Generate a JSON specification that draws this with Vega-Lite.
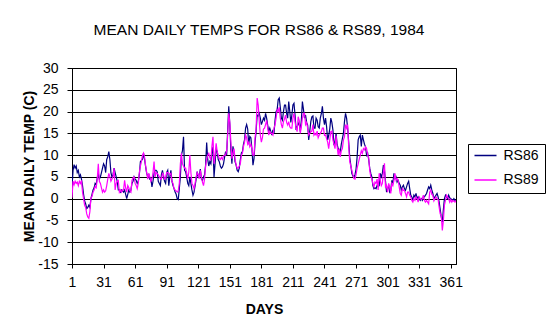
{
"$schema": "https://vega.github.io/schema/vega-lite/v6.json",
"width": 384, "height": 196,
"autosize": {"type": "none"},
"padding": {"left": 72, "top": 68, "right": 94, "bottom": 72},
"background": "white",
"title": {"text": "MEAN DAILY TEMPS FOR RS86 & RS89, 1984", "font": "Liberation Sans", "fontSize": 15.5, "fontWeight": "normal", "color": "black", "anchor": "middle", "offset": 23, "dx": -5},
"data": {"values": [
{"day":1,"RS86":2.5,"RS89":0.2},{"day":2,"RS86":6.5,"RS89":4.0},{"day":3,"RS86":7.8,"RS89":3.2},{"day":4,"RS86":7.0,"RS89":4.0},{"day":5,"RS86":7.5,"RS89":3.5},{"day":6,"RS86":6.0,"RS89":3.8},{"day":7,"RS86":6.5,"RS89":3.0},{"day":8,"RS86":5.0,"RS89":4.0},{"day":9,"RS86":5.5,"RS89":3.5},{"day":10,"RS86":4.5,"RS89":4.2},
{"day":11,"RS86":3.0,"RS89":1.5},{"day":12,"RS86":1.0,"RS89":0.0},{"day":13,"RS86":-0.5,"RS89":-1.5},{"day":14,"RS86":-1.2,"RS89":-2.0},{"day":15,"RS86":-2.3,"RS89":-3.5},{"day":16,"RS86":-2.0,"RS89":-4.2},{"day":17,"RS86":-1.5,"RS89":-4.5},{"day":18,"RS86":-2.0,"RS89":-3.0},{"day":19,"RS86":0.0,"RS89":0.2},{"day":20,"RS86":1.0,"RS89":0.5},
{"day":21,"RS86":2.0,"RS89":1.5},{"day":22,"RS86":2.5,"RS89":2.0},{"day":23,"RS86":3.5,"RS89":2.8},{"day":24,"RS86":3.2,"RS89":2.5},{"day":25,"RS86":4.8,"RS89":4.5},{"day":26,"RS86":5.8,"RS89":8.0},{"day":27,"RS86":4.5,"RS89":4.0},{"day":28,"RS86":5.0,"RS89":3.5},{"day":29,"RS86":6.0,"RS89":2.5},{"day":30,"RS86":7.0,"RS89":1.5},
{"day":31,"RS86":8.0,"RS89":2.0},{"day":32,"RS86":7.5,"RS89":1.5},{"day":33,"RS86":6.0,"RS89":1.8},{"day":34,"RS86":9.0,"RS89":3.0},{"day":35,"RS86":9.6,"RS89":4.5},{"day":36,"RS86":10.8,"RS89":5.8},{"day":37,"RS86":9.0,"RS89":5.0},{"day":38,"RS86":6.0,"RS89":4.0},{"day":39,"RS86":5.0,"RS89":4.5},{"day":40,"RS86":5.5,"RS89":5.0},
{"day":41,"RS86":7.0,"RS89":7.0},{"day":42,"RS86":6.0,"RS89":2.0},{"day":43,"RS86":5.0,"RS89":3.5},{"day":44,"RS86":4.0,"RS89":4.0},{"day":45,"RS86":2.0,"RS89":4.2},{"day":46,"RS86":2.0,"RS89":1.5},{"day":47,"RS86":1.5,"RS89":2.0},{"day":48,"RS86":2.0,"RS89":1.5},{"day":49,"RS86":1.8,"RS89":2.0},{"day":50,"RS86":1.5,"RS89":2.0},
{"day":51,"RS86":2.0,"RS89":4.2},{"day":52,"RS86":1.0,"RS89":2.5},{"day":53,"RS86":0.0,"RS89":1.5},{"day":54,"RS86":1.0,"RS89":3.0},{"day":55,"RS86":2.0,"RS89":2.5},{"day":56,"RS86":1.5,"RS89":1.8},{"day":57,"RS86":2.0,"RS89":1.5},{"day":58,"RS86":3.5,"RS89":4.2},{"day":59,"RS86":4.0,"RS89":4.8},{"day":60,"RS86":5.0,"RS89":5.0},
{"day":61,"RS86":4.5,"RS89":3.5},{"day":62,"RS86":4.2,"RS89":3.0},{"day":63,"RS86":3.5,"RS89":2.3},{"day":64,"RS86":4.0,"RS89":3.5},{"day":65,"RS86":5.5,"RS89":6.0},{"day":66,"RS86":8.5,"RS89":7.5},{"day":67,"RS86":8.8,"RS89":8.5},{"day":68,"RS86":9.0,"RS89":10.0},{"day":69,"RS86":10.4,"RS89":10.5},{"day":70,"RS86":9.0,"RS89":9.5},
{"day":71,"RS86":7.3,"RS89":7.5},{"day":72,"RS86":5.8,"RS89":6.0},{"day":73,"RS86":5.0,"RS89":4.5},{"day":74,"RS86":5.5,"RS89":5.8},{"day":75,"RS86":4.5,"RS89":5.0},{"day":76,"RS86":4.6,"RS89":4.0},{"day":77,"RS86":2.7,"RS89":4.5},{"day":78,"RS86":4.0,"RS89":6.0},{"day":79,"RS86":5.8,"RS89":8.5},{"day":80,"RS86":6.5,"RS89":5.0},
{"day":81,"RS86":6.5,"RS89":6.0},{"day":82,"RS86":6.2,"RS89":5.8},{"day":83,"RS86":4.0,"RS89":5.5},{"day":84,"RS86":3.5,"RS89":5.0},{"day":85,"RS86":3.0,"RS89":4.6},{"day":86,"RS86":5.5,"RS89":4.5},{"day":87,"RS86":6.5,"RS89":5.8},{"day":88,"RS86":5.0,"RS89":5.5},{"day":89,"RS86":4.0,"RS89":4.5},{"day":90,"RS86":3.5,"RS89":4.6},
{"day":91,"RS86":6.0,"RS89":6.0},{"day":92,"RS86":6.5,"RS89":6.0},{"day":93,"RS86":3.0,"RS89":5.8},{"day":94,"RS86":5.0,"RS89":5.5},{"day":95,"RS86":6.5,"RS89":5.8},{"day":96,"RS86":4.0,"RS89":4.0},{"day":97,"RS86":3.0,"RS89":3.5},{"day":98,"RS86":2.3,"RS89":2.3},{"day":99,"RS86":1.5,"RS89":2.0},{"day":100,"RS86":1.0,"RS89":1.8},
{"day":101,"RS86":0.0,"RS89":1.5},{"day":102,"RS86":-0.2,"RS89":1.8},{"day":103,"RS86":2.3,"RS89":3.5},{"day":104,"RS86":5.0,"RS89":8.0},{"day":105,"RS86":10.0,"RS89":10.4},{"day":106,"RS86":11.0,"RS89":8.0},{"day":107,"RS86":14.2,"RS89":7.5},{"day":108,"RS86":6.5,"RS89":7.0},{"day":109,"RS86":6.2,"RS89":7.0},{"day":110,"RS86":5.0,"RS89":6.0},
{"day":111,"RS86":3.5,"RS89":4.5},{"day":112,"RS86":3.0,"RS89":6.0},{"day":113,"RS86":5.0,"RS89":10.0},{"day":114,"RS86":3.5,"RS89":6.0},{"day":115,"RS86":2.0,"RS89":3.5},{"day":116,"RS86":0.8,"RS89":3.0},{"day":117,"RS86":1.5,"RS89":2.3},{"day":118,"RS86":3.0,"RS89":3.5},{"day":119,"RS86":4.5,"RS89":5.0},{"day":120,"RS86":6.2,"RS89":6.0},
{"day":121,"RS86":5.0,"RS89":5.5},{"day":122,"RS86":5.5,"RS89":4.6},{"day":123,"RS86":6.8,"RS89":6.5},{"day":124,"RS86":4.5,"RS89":5.0},{"day":125,"RS86":4.2,"RS89":3.8},{"day":126,"RS86":5.0,"RS89":3.0},{"day":127,"RS86":5.5,"RS89":4.5},{"day":128,"RS86":7.7,"RS89":7.5},{"day":129,"RS86":12.9,"RS89":9.0},{"day":130,"RS86":9.0,"RS89":10.0},
{"day":131,"RS86":7.5,"RS89":10.4},{"day":132,"RS86":8.5,"RS89":9.5},{"day":133,"RS86":8.0,"RS89":8.8},{"day":134,"RS86":10.5,"RS89":12.0},{"day":135,"RS86":11.9,"RS89":14.2},{"day":136,"RS86":5.0,"RS89":8.0},{"day":137,"RS86":8.0,"RS89":10.0},{"day":138,"RS86":11.5,"RS89":12.7},{"day":139,"RS86":10.8,"RS89":10.8},{"day":140,"RS86":9.0,"RS89":10.0},
{"day":141,"RS86":8.5,"RS89":9.2},{"day":142,"RS86":7.5,"RS89":9.0},{"day":143,"RS86":7.0,"RS89":9.5},{"day":144,"RS86":7.3,"RS89":9.0},{"day":145,"RS86":8.0,"RS89":9.8},{"day":146,"RS86":9.5,"RS89":10.0},{"day":147,"RS86":10.8,"RS89":10.0},{"day":148,"RS86":10.0,"RS89":11.0},{"day":149,"RS86":15.8,"RS89":14.6},{"day":150,"RS86":21.2,"RS89":19.6},
{"day":151,"RS86":17.0,"RS89":17.5},{"day":152,"RS86":11.2,"RS89":13.0},{"day":153,"RS86":8.0,"RS89":9.2},{"day":154,"RS86":12.0,"RS89":10.5},{"day":155,"RS86":10.5,"RS89":11.5},{"day":156,"RS86":8.5,"RS89":9.0},{"day":157,"RS86":7.7,"RS89":7.8},{"day":158,"RS86":6.5,"RS89":7.0},{"day":159,"RS86":6.2,"RS89":7.0},{"day":160,"RS86":7.0,"RS89":7.5},
{"day":161,"RS86":9.0,"RS89":8.0},{"day":162,"RS86":10.5,"RS89":10.0},{"day":163,"RS86":10.8,"RS89":10.4},{"day":164,"RS86":12.5,"RS89":12.0},{"day":165,"RS86":13.5,"RS89":13.0},{"day":166,"RS86":16.2,"RS89":14.6},{"day":167,"RS86":17.0,"RS89":14.0},{"day":168,"RS86":16.0,"RS89":12.5},{"day":169,"RS86":12.5,"RS89":13.0},{"day":170,"RS86":14.3,"RS89":11.9},
{"day":171,"RS86":14.0,"RS89":12.5},{"day":172,"RS86":11.5,"RS89":11.5},{"day":173,"RS86":7.7,"RS89":10.0},{"day":174,"RS86":9.2,"RS89":10.0},{"day":175,"RS86":13.0,"RS89":14.0},{"day":176,"RS86":15.5,"RS89":16.0},{"day":177,"RS86":19.2,"RS89":23.1},{"day":178,"RS86":19.0,"RS89":21.5},{"day":179,"RS86":19.6,"RS89":17.7},{"day":180,"RS86":18.5,"RS89":14.6},
{"day":181,"RS86":17.0,"RS89":13.0},{"day":182,"RS86":17.7,"RS89":14.0},{"day":183,"RS86":18.5,"RS89":16.0},{"day":184,"RS86":18.0,"RS89":16.2},{"day":185,"RS86":19.6,"RS89":17.0},{"day":186,"RS86":18.5,"RS89":18.0},{"day":187,"RS86":16.9,"RS89":16.2},{"day":188,"RS86":15.4,"RS89":14.6},{"day":189,"RS86":16.2,"RS89":15.5},{"day":190,"RS86":15.4,"RS89":15.0},
{"day":191,"RS86":14.6,"RS89":15.0},{"day":192,"RS86":15.8,"RS89":14.6},{"day":193,"RS86":15.0,"RS89":16.2},{"day":194,"RS86":18.0,"RS89":17.0},{"day":195,"RS86":20.0,"RS89":18.5},{"day":196,"RS86":20.4,"RS89":20.4},{"day":197,"RS86":22.7,"RS89":20.0},{"day":198,"RS86":23.1,"RS89":21.0},{"day":199,"RS86":21.0,"RS89":18.5},{"day":200,"RS86":18.5,"RS89":17.0},
{"day":201,"RS86":18.0,"RS89":16.2},{"day":202,"RS86":20.0,"RS89":17.7},{"day":203,"RS86":21.5,"RS89":18.3},{"day":204,"RS86":21.5,"RS89":19.2},{"day":205,"RS86":19.6,"RS89":17.5},{"day":206,"RS86":18.5,"RS89":16.9},{"day":207,"RS86":22.3,"RS89":17.7},{"day":208,"RS86":20.0,"RS89":16.5},{"day":209,"RS86":17.5,"RS89":16.2},{"day":210,"RS86":19.2,"RS89":16.2},
{"day":211,"RS86":21.5,"RS89":18.5},{"day":212,"RS86":21.9,"RS89":19.6},{"day":213,"RS86":19.2,"RS89":17.7},{"day":214,"RS86":15.8,"RS89":16.2},{"day":215,"RS86":16.5,"RS89":15.4},{"day":216,"RS86":17.0,"RS89":18.8},{"day":217,"RS86":17.7,"RS89":18.0},{"day":218,"RS86":15.4,"RS89":15.0},{"day":219,"RS86":18.0,"RS89":16.5},{"day":220,"RS86":22.3,"RS89":18.5},
{"day":221,"RS86":20.5,"RS89":19.6},{"day":222,"RS86":18.5,"RS89":19.6},{"day":223,"RS86":19.2,"RS89":17.0},{"day":224,"RS86":17.5,"RS89":17.5},{"day":225,"RS86":16.9,"RS89":16.2},{"day":226,"RS86":13.5,"RS89":14.6},{"day":227,"RS86":15.5,"RS89":15.0},{"day":228,"RS86":17.7,"RS89":15.4},{"day":229,"RS86":18.8,"RS89":15.5},{"day":230,"RS86":19.0,"RS89":17.0},
{"day":231,"RS86":16.2,"RS89":14.6},{"day":232,"RS86":16.2,"RS89":15.0},{"day":233,"RS86":18.5,"RS89":14.6},{"day":234,"RS86":18.0,"RS89":15.5},{"day":235,"RS86":16.5,"RS89":14.0},{"day":236,"RS86":16.2,"RS89":14.6},{"day":237,"RS86":18.5,"RS89":15.0},{"day":238,"RS86":19.5,"RS89":15.4},{"day":239,"RS86":21.2,"RS89":16.2},{"day":240,"RS86":18.5,"RS89":16.2},
{"day":241,"RS86":17.0,"RS89":14.5},{"day":242,"RS86":18.5,"RS89":14.6},{"day":243,"RS86":16.5,"RS89":13.8},{"day":244,"RS86":13.5,"RS89":13.0},{"day":245,"RS86":14.5,"RS89":11.5},{"day":246,"RS86":16.0,"RS89":13.5},{"day":247,"RS86":18.5,"RS89":15.4},{"day":248,"RS86":17.5,"RS89":15.5},{"day":249,"RS86":15.8,"RS89":13.5},{"day":250,"RS86":12.3,"RS89":12.5},
{"day":251,"RS86":13.0,"RS89":11.5},{"day":252,"RS86":15.0,"RS89":14.5},{"day":253,"RS86":12.5,"RS89":12.0},{"day":254,"RS86":11.5,"RS89":10.0},{"day":255,"RS86":11.2,"RS89":11.5},{"day":256,"RS86":10.8,"RS89":9.6},{"day":257,"RS86":12.5,"RS89":11.0},{"day":258,"RS86":13.8,"RS89":11.5},{"day":259,"RS86":15.0,"RS89":13.5},{"day":260,"RS86":17.7,"RS89":14.2},
{"day":261,"RS86":19.6,"RS89":17.0},{"day":262,"RS86":18.5,"RS89":16.2},{"day":263,"RS86":16.2,"RS89":17.0},{"day":264,"RS86":13.0,"RS89":12.0},{"day":265,"RS86":9.5,"RS89":8.5},{"day":266,"RS86":7.7,"RS89":7.5},{"day":267,"RS86":5.8,"RS89":6.5},{"day":268,"RS86":5.2,"RS89":5.5},{"day":269,"RS86":5.0,"RS89":4.6},{"day":270,"RS86":5.5,"RS89":4.5},
{"day":271,"RS86":6.8,"RS89":5.5},{"day":272,"RS86":9.5,"RS89":7.0},{"day":273,"RS86":13.5,"RS89":8.0},{"day":274,"RS86":14.2,"RS89":9.0},{"day":275,"RS86":14.6,"RS89":10.0},{"day":276,"RS86":12.0,"RS89":11.0},{"day":277,"RS86":14.6,"RS89":10.4},{"day":278,"RS86":13.5,"RS89":11.5},{"day":279,"RS86":12.5,"RS89":11.2},{"day":280,"RS86":11.9,"RS89":11.9},
{"day":281,"RS86":10.0,"RS89":11.5},{"day":282,"RS86":10.5,"RS89":10.0},{"day":283,"RS86":9.0,"RS89":9.5},{"day":284,"RS86":7.0,"RS89":6.5},{"day":285,"RS86":5.8,"RS89":5.0},{"day":286,"RS86":5.0,"RS89":4.6},{"day":287,"RS86":3.0,"RS89":3.5},{"day":288,"RS86":2.3,"RS89":2.7},{"day":289,"RS86":2.5,"RS89":3.8},{"day":290,"RS86":2.3,"RS89":3.5},
{"day":291,"RS86":3.0,"RS89":4.5},{"day":292,"RS86":2.8,"RS89":2.0},{"day":293,"RS86":3.0,"RS89":5.8},{"day":294,"RS86":5.8,"RS89":4.2},{"day":295,"RS86":5.0,"RS89":3.0},{"day":296,"RS86":5.8,"RS89":3.5},{"day":297,"RS86":7.7,"RS89":6.0},{"day":298,"RS86":6.5,"RS89":8.1},{"day":299,"RS86":4.0,"RS89":2.5},{"day":300,"RS86":1.5,"RS89":3.0},
{"day":301,"RS86":2.3,"RS89":1.5},{"day":302,"RS86":3.0,"RS89":3.5},{"day":303,"RS86":1.5,"RS89":2.7},{"day":304,"RS86":1.9,"RS89":1.2},{"day":305,"RS86":4.2,"RS89":3.5},{"day":306,"RS86":3.5,"RS89":3.0},{"day":307,"RS86":5.8,"RS89":4.2},{"day":308,"RS86":4.6,"RS89":5.8},{"day":309,"RS86":5.0,"RS89":4.2},{"day":310,"RS86":3.8,"RS89":4.6},
{"day":311,"RS86":4.2,"RS89":4.2},{"day":312,"RS86":3.5,"RS89":2.7},{"day":313,"RS86":3.1,"RS89":1.2},{"day":314,"RS86":2.0,"RS89":0.8},{"day":315,"RS86":2.7,"RS89":2.3},{"day":316,"RS86":3.1,"RS89":1.9},{"day":317,"RS86":2.3,"RS89":1.9},{"day":318,"RS86":1.9,"RS89":1.2},{"day":319,"RS86":2.7,"RS89":0.4},{"day":320,"RS86":3.5,"RS89":1.5},
{"day":321,"RS86":4.0,"RS89":1.5},{"day":322,"RS86":2.3,"RS89":0.8},{"day":323,"RS86":0.8,"RS89":0.4},{"day":324,"RS86":0.4,"RS89":-0.4},{"day":325,"RS86":-0.4,"RS89":-0.8},{"day":326,"RS86":0.8,"RS89":0.0},{"day":327,"RS86":0.4,"RS89":-0.4},{"day":328,"RS86":1.2,"RS89":0.4},{"day":329,"RS86":0.0,"RS89":0.0},{"day":330,"RS86":0.4,"RS89":-0.8},
{"day":331,"RS86":0.0,"RS89":0.4},{"day":332,"RS86":-0.4,"RS89":0.0},{"day":333,"RS86":0.0,"RS89":-0.2},{"day":334,"RS86":-0.4,"RS89":0.0},{"day":335,"RS86":0.4,"RS89":0.8},{"day":336,"RS86":0.4,"RS89":-0.4},{"day":337,"RS86":0.8,"RS89":-0.8},{"day":338,"RS86":1.2,"RS89":-0.4},{"day":339,"RS86":2.0,"RS89":-0.8},{"day":340,"RS86":2.7,"RS89":-1.2},
{"day":341,"RS86":2.3,"RS89":1.5},{"day":342,"RS86":3.1,"RS89":2.0},{"day":343,"RS86":2.0,"RS89":1.0},{"day":344,"RS86":1.2,"RS89":0.8},{"day":345,"RS86":0.0,"RS89":-0.5},{"day":346,"RS86":0.4,"RS89":0.0},{"day":347,"RS86":0.8,"RS89":0.4},{"day":348,"RS86":1.2,"RS89":0.0},{"day":349,"RS86":0.4,"RS89":-0.2},{"day":350,"RS86":-0.8,"RS89":-2.0},
{"day":351,"RS86":-2.5,"RS89":-3.5},{"day":352,"RS86":-4.2,"RS89":-3.8},{"day":353,"RS86":-5.4,"RS89":-7.3},{"day":354,"RS86":-2.5,"RS89":-5.0},{"day":355,"RS86":0.0,"RS89":-1.5},{"day":356,"RS86":0.8,"RS89":-0.4},{"day":357,"RS86":0.4,"RS89":0.8},{"day":358,"RS86":0.0,"RS89":0.4},{"day":359,"RS86":0.8,"RS89":0.0},{"day":360,"RS86":0.2,"RS89":-0.8},
{"day":361,"RS86":0.0,"RS89":-0.2},{"day":362,"RS86":-0.2,"RS89":-0.8},{"day":363,"RS86":-0.4,"RS89":-0.4},{"day":364,"RS86":0.0,"RS89":-0.6},{"day":365,"RS86":-0.4,"RS89":-0.8},{"day":366,"RS86":-0.4,"RS89":-0.4}
]},
"transform": [{"fold": ["RS86", "RS89"], "as": ["series", "temp"]}],
"mark": {"type": "line", "strokeWidth": 1.2, "clip": true},
"encoding": {
  "x": {"field": "day", "type": "quantitative",
        "scale": {"domain": [1, 366], "nice": false, "zero": false},
        "axis": {"values": [1,31,61,91,121,151,181,211,241,271,301,331,361], "title": "DAYS", "grid": false, "tickSize": 4, "labelPadding": 7, "titlePadding": 13, "labelFlush": false, "labelOverlap": false}},
  "y": {"field": "temp", "type": "quantitative",
        "scale": {"domain": [-15, 30], "nice": false, "zero": false},
        "axis": {"values": [-15,-10,-5,0,5,10,15,20,25,30], "title": "MEAN DAILY TEMP (C)", "grid": true, "gridColor": "black", "gridOpacity": 1, "gridWidth": 1, "tickSize": 5, "labelPadding": 9, "titlePadding": 1, "labelExpr": "'' + datum.value", "labelFlush": false, "labelOverlap": false}},
  "color": {"field": "series", "type": "nominal",
        "scale": {"domain": ["RS86", "RS89"], "range": ["#000080", "#FF00FF"]},
        "legend": {"orient": "none", "legendX": 396, "legendY": 76, "title": null, "symbolType": "stroke", "symbolSize": 484, "symbolStrokeWidth": 1.5, "labelFont": "Liberation Sans", "labelFontSize": 14, "labelColor": "black", "labelOffset": 6, "strokeColor": "black", "fillColor": "white", "padding": 5.5, "clipHeight": 12, "rowPadding": 10.6}}
},
"config": {
  "view": {"stroke": "black", "strokeWidth": 1},
  "axis": {"domainColor": "black", "domainWidth": 1, "tickColor": "black", "tickWidth": 1, "labelFont": "Liberation Sans", "labelFontSize": 14, "labelColor": "black", "titleFont": "Liberation Sans", "titleFontSize": 14, "titleFontWeight": "bold", "titleColor": "black"}
}
}
